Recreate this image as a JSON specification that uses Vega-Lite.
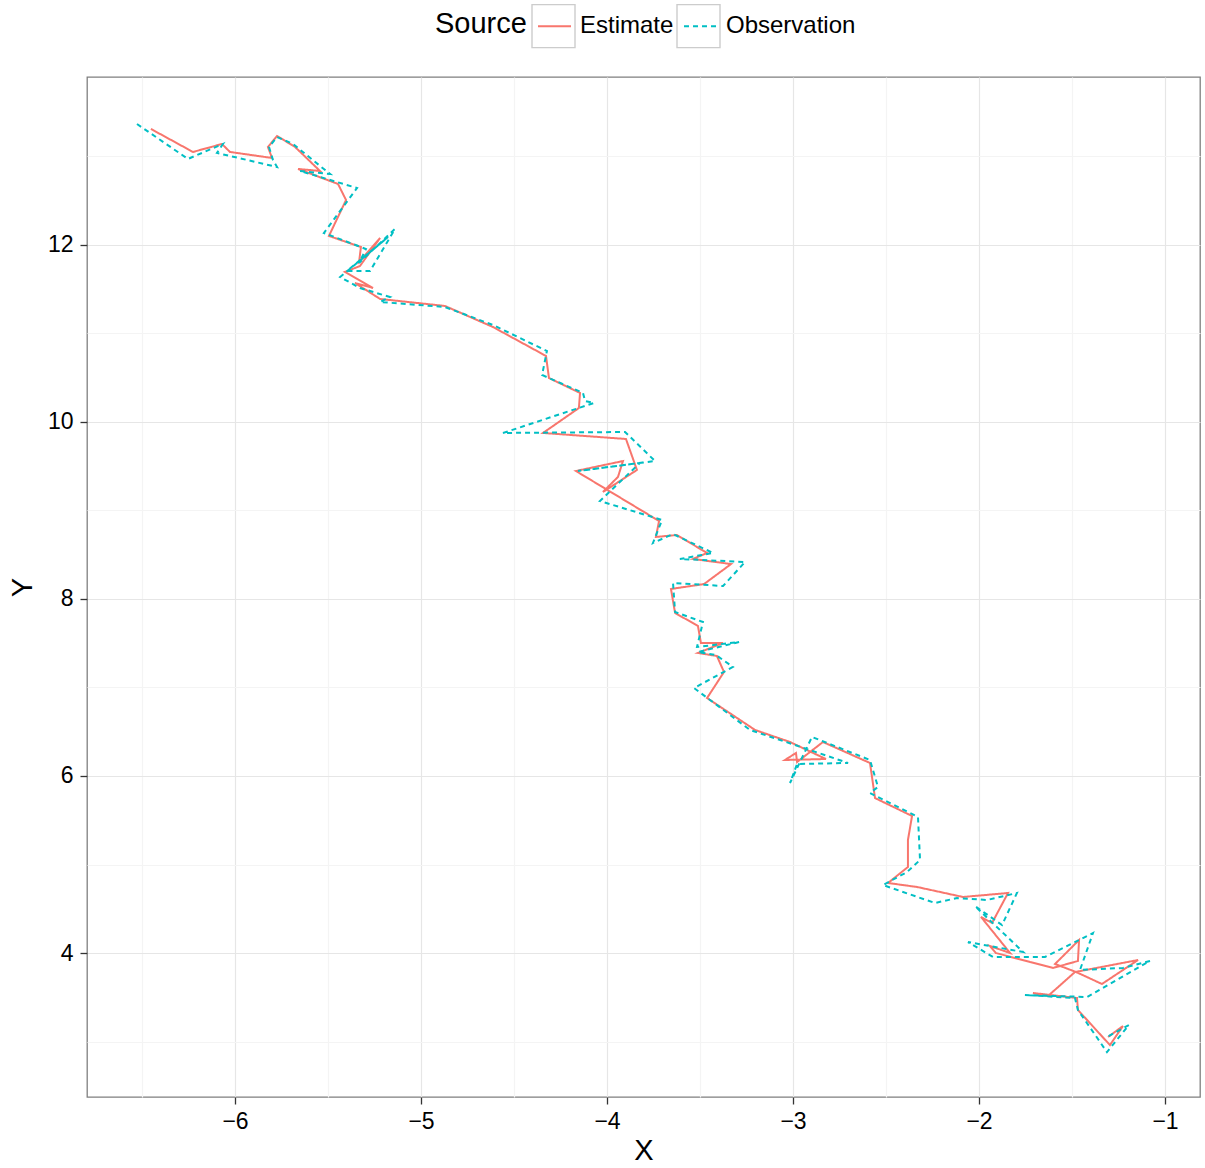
{
  "$schema": "https://vega.github.io/schema/vega-lite/v6.json",
  "width": 1113,
  "height": 1020,
  "autosize": {"type": "none"},
  "padding": {"left": 87, "top": 77, "right": 5, "bottom": 71},
  "background": "white",
  "config": {
    "font": "Liberation Sans",
    "view": {"stroke": "#7f7f7f", "strokeWidth": 1.3}
  },
  "data": {"values": [
    {"Source":"Estimate","i":1,"X":-6.452,"Y":13.311},
    {"Source":"Estimate","i":2,"X":-6.226,"Y":13.051},
    {"Source":"Estimate","i":3,"X":-6.070,"Y":13.141},
    {"Source":"Estimate","i":4,"X":-6.027,"Y":13.051},
    {"Source":"Estimate","i":5,"X":-5.801,"Y":12.983},
    {"Source":"Estimate","i":6,"X":-5.823,"Y":13.107},
    {"Source":"Estimate","i":7,"X":-5.774,"Y":13.232},
    {"Source":"Estimate","i":8,"X":-5.677,"Y":13.107},
    {"Source":"Estimate","i":9,"X":-5.543,"Y":12.836},
    {"Source":"Estimate","i":10,"X":-5.661,"Y":12.859},
    {"Source":"Estimate","i":11,"X":-5.446,"Y":12.689},
    {"Source":"Estimate","i":12,"X":-5.403,"Y":12.508},
    {"Source":"Estimate","i":13,"X":-5.495,"Y":12.102},
    {"Source":"Estimate","i":14,"X":-5.323,"Y":11.977},
    {"Source":"Estimate","i":15,"X":-5.333,"Y":11.808},
    {"Source":"Estimate","i":16,"X":-5.220,"Y":12.079},
    {"Source":"Estimate","i":17,"X":-5.328,"Y":11.763},
    {"Source":"Estimate","i":18,"X":-5.409,"Y":11.695},
    {"Source":"Estimate","i":19,"X":-5.258,"Y":11.514},
    {"Source":"Estimate","i":20,"X":-5.355,"Y":11.571},
    {"Source":"Estimate","i":21,"X":-5.220,"Y":11.390},
    {"Source":"Estimate","i":22,"X":-4.871,"Y":11.311},
    {"Source":"Estimate","i":23,"X":-4.613,"Y":11.073},
    {"Source":"Estimate","i":24,"X":-4.328,"Y":10.746},
    {"Source":"Estimate","i":25,"X":-4.312,"Y":10.497},
    {"Source":"Estimate","i":26,"X":-4.145,"Y":10.328},
    {"Source":"Estimate","i":27,"X":-4.151,"Y":10.158},
    {"Source":"Estimate","i":28,"X":-4.344,"Y":9.876},
    {"Source":"Estimate","i":29,"X":-3.898,"Y":9.808},
    {"Source":"Estimate","i":30,"X":-3.839,"Y":9.458},
    {"Source":"Estimate","i":31,"X":-4.022,"Y":9.209},
    {"Source":"Estimate","i":32,"X":-3.941,"Y":9.379},
    {"Source":"Estimate","i":33,"X":-3.914,"Y":9.559},
    {"Source":"Estimate","i":34,"X":-4.167,"Y":9.446},
    {"Source":"Estimate","i":35,"X":-3.720,"Y":8.881},
    {"Source":"Estimate","i":36,"X":-3.737,"Y":8.701},
    {"Source":"Estimate","i":37,"X":-3.624,"Y":8.723},
    {"Source":"Estimate","i":38,"X":-3.462,"Y":8.520},
    {"Source":"Estimate","i":39,"X":-3.538,"Y":8.452},
    {"Source":"Estimate","i":40,"X":-3.333,"Y":8.395},
    {"Source":"Estimate","i":41,"X":-3.478,"Y":8.169},
    {"Source":"Estimate","i":42,"X":-3.656,"Y":8.113},
    {"Source":"Estimate","i":43,"X":-3.634,"Y":7.842},
    {"Source":"Estimate","i":44,"X":-3.511,"Y":7.695},
    {"Source":"Estimate","i":45,"X":-3.495,"Y":7.503},
    {"Source":"Estimate","i":46,"X":-3.376,"Y":7.503},
    {"Source":"Estimate","i":47,"X":-3.511,"Y":7.390},
    {"Source":"Estimate","i":48,"X":-3.409,"Y":7.356},
    {"Source":"Estimate","i":49,"X":-3.371,"Y":7.175},
    {"Source":"Estimate","i":50,"X":-3.462,"Y":6.881},
    {"Source":"Estimate","i":51,"X":-3.204,"Y":6.520},
    {"Source":"Estimate","i":52,"X":-3.016,"Y":6.384},
    {"Source":"Estimate","i":53,"X":-2.823,"Y":6.192},
    {"Source":"Estimate","i":54,"X":-3.043,"Y":6.181},
    {"Source":"Estimate","i":55,"X":-2.984,"Y":6.260},
    {"Source":"Estimate","i":56,"X":-2.978,"Y":6.158},
    {"Source":"Estimate","i":57,"X":-2.839,"Y":6.384},
    {"Source":"Estimate","i":58,"X":-2.586,"Y":6.147},
    {"Source":"Estimate","i":59,"X":-2.559,"Y":5.751},
    {"Source":"Estimate","i":60,"X":-2.360,"Y":5.548},
    {"Source":"Estimate","i":61,"X":-2.382,"Y":5.277},
    {"Source":"Estimate","i":62,"X":-2.382,"Y":4.972},
    {"Source":"Estimate","i":63,"X":-2.489,"Y":4.791},
    {"Source":"Estimate","i":64,"X":-2.333,"Y":4.746},
    {"Source":"Estimate","i":65,"X":-2.086,"Y":4.633},
    {"Source":"Estimate","i":66,"X":-1.844,"Y":4.678},
    {"Source":"Estimate","i":67,"X":-1.930,"Y":4.339},
    {"Source":"Estimate","i":68,"X":-1.989,"Y":4.407},
    {"Source":"Estimate","i":69,"X":-1.833,"Y":4.000},
    {"Source":"Estimate","i":70,"X":-1.941,"Y":4.079},
    {"Source":"Estimate","i":71,"X":-1.909,"Y":4.000},
    {"Source":"Estimate","i":72,"X":-1.602,"Y":3.831},
    {"Source":"Estimate","i":73,"X":-1.468,"Y":3.910},
    {"Source":"Estimate","i":74,"X":-1.462,"Y":4.147},
    {"Source":"Estimate","i":75,"X":-1.591,"Y":3.876},
    {"Source":"Estimate","i":76,"X":-1.478,"Y":3.785},
    {"Source":"Estimate","i":77,"X":-1.339,"Y":3.650},
    {"Source":"Estimate","i":78,"X":-1.145,"Y":3.921},
    {"Source":"Estimate","i":79,"X":-1.484,"Y":3.785},
    {"Source":"Estimate","i":80,"X":-1.629,"Y":3.514},
    {"Source":"Estimate","i":81,"X":-1.710,"Y":3.548},
    {"Source":"Estimate","i":82,"X":-1.473,"Y":3.492},
    {"Source":"Estimate","i":83,"X":-1.468,"Y":3.356},
    {"Source":"Estimate","i":84,"X":-1.296,"Y":2.960},
    {"Source":"Estimate","i":85,"X":-1.226,"Y":3.175},
    {"Source":"Estimate","i":86,"X":-1.306,"Y":3.051},
    {"Source":"Observation","i":1,"X":-6.527,"Y":13.367},
    {"Source":"Observation","i":2,"X":-6.253,"Y":12.972},
    {"Source":"Observation","i":3,"X":-6.065,"Y":13.141},
    {"Source":"Observation","i":4,"X":-6.097,"Y":13.040},
    {"Source":"Observation","i":5,"X":-5.774,"Y":12.881},
    {"Source":"Observation","i":6,"X":-5.796,"Y":12.960},
    {"Source":"Observation","i":7,"X":-5.817,"Y":13.107},
    {"Source":"Observation","i":8,"X":-5.774,"Y":13.220},
    {"Source":"Observation","i":9,"X":-5.688,"Y":13.141},
    {"Source":"Observation","i":10,"X":-5.489,"Y":12.802},
    {"Source":"Observation","i":11,"X":-5.651,"Y":12.836},
    {"Source":"Observation","i":12,"X":-5.344,"Y":12.644},
    {"Source":"Observation","i":13,"X":-5.522,"Y":12.136},
    {"Source":"Observation","i":14,"X":-5.296,"Y":11.955},
    {"Source":"Observation","i":15,"X":-5.333,"Y":11.797},
    {"Source":"Observation","i":16,"X":-5.140,"Y":12.181},
    {"Source":"Observation","i":17,"X":-5.274,"Y":11.706},
    {"Source":"Observation","i":18,"X":-5.398,"Y":11.706},
    {"Source":"Observation","i":19,"X":-5.177,"Y":12.090},
    {"Source":"Observation","i":20,"X":-5.435,"Y":11.638},
    {"Source":"Observation","i":21,"X":-5.328,"Y":11.514},
    {"Source":"Observation","i":22,"X":-5.167,"Y":11.412},
    {"Source":"Observation","i":23,"X":-5.220,"Y":11.356},
    {"Source":"Observation","i":24,"X":-4.871,"Y":11.299},
    {"Source":"Observation","i":25,"X":-4.613,"Y":11.096},
    {"Source":"Observation","i":26,"X":-4.323,"Y":10.802},
    {"Source":"Observation","i":27,"X":-4.349,"Y":10.531},
    {"Source":"Observation","i":28,"X":-4.129,"Y":10.328},
    {"Source":"Observation","i":29,"X":-4.118,"Y":10.237},
    {"Source":"Observation","i":30,"X":-4.070,"Y":10.215},
    {"Source":"Observation","i":31,"X":-4.559,"Y":9.876},
    {"Source":"Observation","i":32,"X":-3.903,"Y":9.887},
    {"Source":"Observation","i":33,"X":-3.742,"Y":9.559},
    {"Source":"Observation","i":34,"X":-4.156,"Y":9.446},
    {"Source":"Observation","i":35,"X":-3.823,"Y":9.537},
    {"Source":"Observation","i":36,"X":-4.038,"Y":9.107},
    {"Source":"Observation","i":37,"X":-3.704,"Y":8.893},
    {"Source":"Observation","i":38,"X":-3.753,"Y":8.633},
    {"Source":"Observation","i":39,"X":-3.645,"Y":8.734},
    {"Source":"Observation","i":40,"X":-3.430,"Y":8.520},
    {"Source":"Observation","i":41,"X":-3.608,"Y":8.452},
    {"Source":"Observation","i":42,"X":-3.258,"Y":8.418},
    {"Source":"Observation","i":43,"X":-3.376,"Y":8.147},
    {"Source":"Observation","i":44,"X":-3.645,"Y":8.181},
    {"Source":"Observation","i":45,"X":-3.634,"Y":7.853},
    {"Source":"Observation","i":46,"X":-3.484,"Y":7.740},
    {"Source":"Observation","i":47,"X":-3.516,"Y":7.458},
    {"Source":"Observation","i":48,"X":-3.290,"Y":7.514},
    {"Source":"Observation","i":49,"X":-3.511,"Y":7.401},
    {"Source":"Observation","i":50,"X":-3.414,"Y":7.367},
    {"Source":"Observation","i":51,"X":-3.323,"Y":7.232},
    {"Source":"Observation","i":52,"X":-3.532,"Y":6.994},
    {"Source":"Observation","i":53,"X":-3.446,"Y":6.859},
    {"Source":"Observation","i":54,"X":-3.231,"Y":6.520},
    {"Source":"Observation","i":55,"X":-2.989,"Y":6.350},
    {"Source":"Observation","i":56,"X":-2.704,"Y":6.147},
    {"Source":"Observation","i":57,"X":-2.978,"Y":6.136},
    {"Source":"Observation","i":58,"X":-3.016,"Y":5.921},
    {"Source":"Observation","i":59,"X":-2.898,"Y":6.441},
    {"Source":"Observation","i":60,"X":-2.586,"Y":6.181},
    {"Source":"Observation","i":61,"X":-2.543,"Y":5.876},
    {"Source":"Observation","i":62,"X":-2.586,"Y":5.808},
    {"Source":"Observation","i":63,"X":-2.328,"Y":5.537},
    {"Source":"Observation","i":64,"X":-2.317,"Y":5.051},
    {"Source":"Observation","i":65,"X":-2.387,"Y":4.915},
    {"Source":"Observation","i":66,"X":-2.516,"Y":4.768},
    {"Source":"Observation","i":67,"X":-2.237,"Y":4.565},
    {"Source":"Observation","i":68,"X":-2.118,"Y":4.621},
    {"Source":"Observation","i":69,"X":-1.957,"Y":4.599},
    {"Source":"Observation","i":70,"X":-1.796,"Y":4.678},
    {"Source":"Observation","i":71,"X":-1.876,"Y":4.316},
    {"Source":"Observation","i":72,"X":-2.022,"Y":4.531},
    {"Source":"Observation","i":73,"X":-1.763,"Y":4.011},
    {"Source":"Observation","i":74,"X":-2.059,"Y":4.124},
    {"Source":"Observation","i":75,"X":-1.925,"Y":3.955},
    {"Source":"Observation","i":76,"X":-1.645,"Y":3.955},
    {"Source":"Observation","i":77,"X":-1.387,"Y":4.226},
    {"Source":"Observation","i":78,"X":-1.457,"Y":3.808},
    {"Source":"Observation","i":79,"X":-1.226,"Y":3.831},
    {"Source":"Observation","i":80,"X":-1.081,"Y":3.910},
    {"Source":"Observation","i":81,"X":-1.419,"Y":3.503},
    {"Source":"Observation","i":82,"X":-1.753,"Y":3.525},
    {"Source":"Observation","i":83,"X":-1.484,"Y":3.492},
    {"Source":"Observation","i":84,"X":-1.468,"Y":3.356},
    {"Source":"Observation","i":85,"X":-1.312,"Y":2.881},
    {"Source":"Observation","i":86,"X":-1.194,"Y":3.186},
    {"Source":"Observation","i":87,"X":-1.312,"Y":3.051}
  ]},
  "layer": [
    {
      "mark": {"type": "line", "strokeWidth": 2, "clip": true},
      "encoding": {
        "x": {
          "field": "X", "type": "quantitative",
          "scale": {"domain": [-6.7957, -0.8118], "nice": false, "zero": false},
          "axis": {
            "title": "X",
            "values": [-6.5, -6, -5.5, -5, -4.5, -4, -3.5, -3, -2.5, -2, -1.5, -1],
            "labelExpr": "datum.value % 1 === 0 ? format(datum.value, 'd') : ''",
            "labelOverlap": false,
            "grid": true,
            "gridColor": {"condition": {"test": "datum.value % 1 !== 0", "value": "#f4f4f4"}, "value": "#e6e6e6"},
            "gridWidth": 1.2,
            "domain": false,
            "tickOpacity": {"condition": {"test": "datum.value % 1 !== 0", "value": 0}, "value": 1},
            "tickColor": "#333333",
            "tickSize": 7,
            "tickWidth": 1.3,
            "labelFontSize": 23,
            "labelColor": "#000000",
            "labelPadding": 6,
            "titleFontSize": 29,
            "titleFontWeight": "normal",
            "titleColor": "#000000",
            "titlePadding": 3
          }
        },
        "y": {
          "field": "Y", "type": "quantitative",
          "scale": {"domain": [2.373, 13.898], "nice": false, "zero": false},
          "axis": {
            "title": "Y",
            "values": [3, 4, 5, 6, 7, 8, 9, 10, 11, 12, 13],
            "format": "d",
            "labelExpr": "datum.value % 2 === 0 ? datum.label : ''",
            "labelOverlap": false,
            "grid": true,
            "gridColor": {"condition": {"test": "datum.value % 2 !== 0", "value": "#f4f4f4"}, "value": "#e6e6e6"},
            "gridWidth": 1.2,
            "domain": false,
            "tickOpacity": {"condition": {"test": "datum.value % 2 !== 0", "value": 0}, "value": 1},
            "tickColor": "#333333",
            "tickSize": 7,
            "tickWidth": 1.3,
            "labelFontSize": 23,
            "labelColor": "#000000",
            "labelPadding": 7,
            "titleFontSize": 29,
            "titleFontWeight": "normal",
            "titleColor": "#000000",
            "titlePadding": 10
          }
        },
        "order": {"field": "i", "type": "quantitative"},
        "color": {
          "field": "Source", "type": "nominal",
          "scale": {"range": ["#F8766D", "#00BFC4"]},
          "legend": {
            "orient": "none", "legendX": 348, "legendY": -68.5, "direction": "horizontal",
            "title": "Source", "titleOrient": "left", "titleFontSize": 29, "titleFontWeight": "normal",
            "titleColor": "#000000", "titlePadding": 10, "titleAnchor": "middle", "titleBaseline": "middle",
            "symbolType": "stroke", "symbolSize": 1089, "symbolStrokeWidth": 2,
            "labelFontSize": 24, "labelColor": "#000000", "labelOffset": 8, "columnPadding": 6,
            "padding": 0, "zindex": 2
          }
        },
        "strokeDash": {
          "field": "Source", "type": "nominal",
          "scale": {"range": [[1, 0], [5, 4]]},
          "legend": {
            "orient": "none", "legendX": 348, "legendY": -68.5, "direction": "horizontal",
            "title": "Source", "titleOrient": "left", "titleFontSize": 29, "titleFontWeight": "normal",
            "titleColor": "#000000", "titlePadding": 10, "titleAnchor": "middle", "titleBaseline": "middle",
            "symbolType": "stroke", "symbolSize": 1089, "symbolStrokeWidth": 2,
            "labelFontSize": 24, "labelColor": "#000000", "labelOffset": 8, "columnPadding": 6,
            "padding": 0, "zindex": 2
          }
        }
      }
    },
    {
      "transform": [{"filter": "false"}],
      "mark": {"type": "point", "filled": false, "color": "#cccccc", "opacity": 1, "strokeWidth": 1.4},
      "encoding": {
        "x": {"field": "X", "type": "quantitative"},
        "y": {"field": "Y", "type": "quantitative"},
        "shape": {
          "field": "Source", "type": "nominal",
          "scale": {"domain": ["Estimate", "Observation"], "range": ["square", "square"]},
          "legend": {
            "orient": "none", "legendX": 444, "legendY": -73.5, "direction": "horizontal",
            "title": null,
            "symbolType": "square", "symbolSize": 1849, "symbolStrokeWidth": 1.4,
            "symbolStrokeColor": "#cccccc", "symbolFillColor": "white", "symbolOpacity": 1,
            "labelFontSize": 24, "labelColor": "rgba(0,0,0,0)", "labelOffset": 3, "columnPadding": 1,
            "padding": 0, "zindex": 1
          }
        }
      }
    }
  ]
}
